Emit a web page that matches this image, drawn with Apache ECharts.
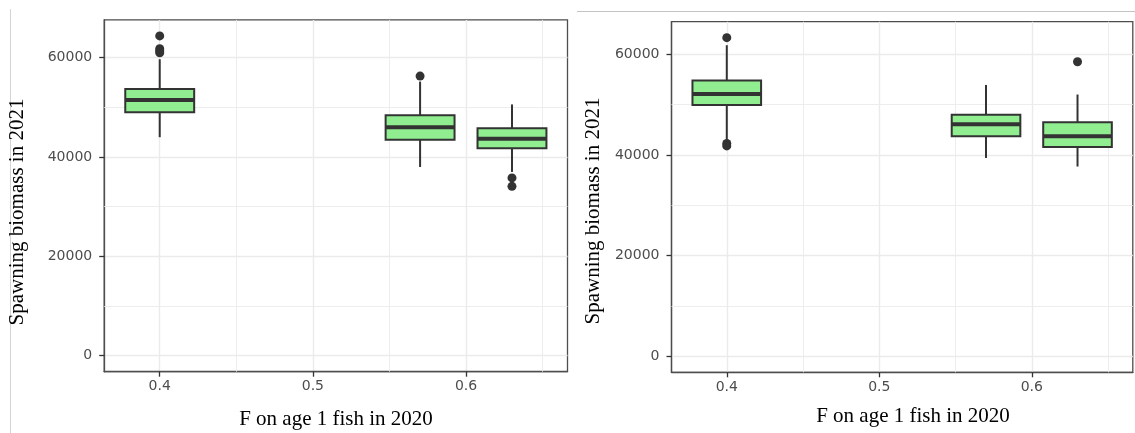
<!DOCTYPE html>
<html>
<head>
<meta charset="utf-8">
<script src="https://cdn.jsdelivr.net/npm/echarts@6/dist/echarts.min.js"></script>
<style>
html,body{margin:0;padding:0;background:#ffffff;}
#chart{width:1135px;height:433px;}
</style>
</head>
<body>
<div id="chart"></div>
<script>
// ---- data ----
const fValues = [0.4, 0.57, 0.63];
const xTickValues = [0.4, 0.5, 0.6];
const xMinorValues = [0.45, 0.55, 0.65];
const yTickValues = [0, 20000, 40000, 60000];
const yMinorValues = [10000, 30000, 50000];

// left panel
const leftLow  = [44000, 38000, 37000];
const leftQ1   = [49000, 43500, 41800];
const leftMed  = [51500, 46000, 43700];
const leftQ3   = [53700, 48400, 45800];
const leftHigh = [59700, 55200, 50600];
const leftOutliers = [[0.4, 64400], [0.4, 61800], [0.4, 61400], [0.4, 61000], [0.57, 56300], [0.63, 35800], [0.63, 34100]];

// right panel
const rightLow  = [43000, 39400, 37700];
const rightQ1   = [49900, 43700, 41600];
const rightMed  = [52100, 46100, 43700];
const rightQ3   = [54800, 48000, 46500];
const rightHigh = [61800, 53900, 52000];
const rightOutliers = [[0.4, 63300], [0.4, 42300], [0.4, 41800], [0.63, 58500]];

const xTitle = 'F on age 1 fish in 2020';
const yTitle = 'Spawning biomass in 2021';

// ---- layout / style ----
const BOX_WIDTH = 0.045;
const FILL = '#90EE90';
const DARK = '#333333';
const BORDER = '#4d4d4d';
const GRID_COLOR = '#ebebeb';

function boxRows(lo, q1, med, q3, hi) {
  return fValues.map((f, i) => [f, lo[i], q1[i], med[i], q3[i], hi[i]]);
}
function yRange(rows, outs) {
  let mx = 0;
  rows.forEach(r => r.slice(1).forEach(v => { if (v > mx) mx = v; }));
  outs.forEach(o => { if (o[1] > mx) mx = o[1]; });
  const pad = 0.05 * mx;
  return [-pad, mx + pad];
}
const xLo = Math.min(...fValues) - BOX_WIDTH / 2;
const xHi = Math.max(...fValues) + BOX_WIDTH / 2;
const xPad = 0.05 * (xHi - xLo);
const xRange = [xLo - xPad, xHi + xPad];

const leftRows = boxRows(leftLow, leftQ1, leftMed, leftQ3, leftHigh);
const rightRows = boxRows(rightLow, rightQ1, rightMed, rightQ3, rightHigh);
const leftY = yRange(leftRows, leftOutliers);
const rightY = yRange(rightRows, rightOutliers);

function renderBox(params, api) {
  const x = api.value(0);
  const lo = api.coord([x, api.value(1)]);
  const q1 = api.coord([x, api.value(2)]);
  const med = api.coord([x, api.value(3)]);
  const q3 = api.coord([x, api.value(4)]);
  const hi = api.coord([x, api.value(5)]);
  const hw = api.size([BOX_WIDTH, 0])[0] / 2;
  return {
    type: 'group',
    children: [
      {type: 'line', shape: {x1: lo[0], y1: lo[1], x2: q1[0], y2: q1[1]}, style: {stroke: DARK, lineWidth: 2}},
      {type: 'line', shape: {x1: q3[0], y1: q3[1], x2: hi[0], y2: hi[1]}, style: {stroke: DARK, lineWidth: 2}},
      {type: 'rect', shape: {x: q3[0] - hw, y: q3[1], width: 2 * hw, height: q1[1] - q3[1]},
        style: {fill: FILL, stroke: DARK, lineWidth: 2}},
      {type: 'line', shape: {x1: med[0] - hw, y1: med[1], x2: med[0] + hw, y2: med[1]}, style: {stroke: DARK, lineWidth: 4}}
    ]
  };
}

function gridLinesSeries(idx) {
  const data = [];
  yMinorValues.forEach(v => data.push({yAxis: v}));
  xMinorValues.forEach(v => data.push({xAxis: v}));
  return {
    type: 'scatter', xAxisIndex: idx, yAxisIndex: idx, data: [], silent: true, z: 1,
    markLine: {
      silent: true, symbol: 'none', z: 1, animation: false,
      label: {show: false},
      emphasis: {disabled: true},
      lineStyle: {color: GRID_COLOR, type: 'solid', width: 0.9},
      data: data
    }
  };
}

const axisLabelFont = {fontFamily: 'DejaVu Sans', fontSize: 14, color: '#4d4d4d'};

function xAxisOpt(idx) {
  return {
    type: 'value', gridIndex: idx, min: xRange[0], max: xRange[1],
    axisLine: {show: true, onZero: false, lineStyle: {color: BORDER, width: 1.3}},
    splitLine: {show: true, lineStyle: {color: GRID_COLOR, width: 1.4}},
    axisTick: {show: true, length: 5, customValues: xTickValues, lineStyle: {color: DARK, width: 1.3}},
    axisLabel: Object.assign({customValues: xTickValues, margin: 8, formatter: v => v.toFixed(1)}, axisLabelFont)
  };
}
function yAxisOpt(idx, range) {
  return {
    type: 'value', gridIndex: idx, min: range[0], max: range[1],
    axisLine: {show: true, onZero: false, lineStyle: {color: BORDER, width: 1.3}},
    splitLine: {show: true, lineStyle: {color: GRID_COLOR, width: 1.4}},
    axisTick: {show: true, length: 5, customValues: yTickValues, lineStyle: {color: DARK, width: 1.3}},
    axisLabel: Object.assign({customValues: yTickValues, margin: 12, formatter: v => String(v)}, axisLabelFont)
  };
}

const titleFont = 'Liberation Serif';

const option = {
  animation: false,
  backgroundColor: '#ffffff',
  grid: [
    {left: 104.2, top: 19.9, width: 463.3, height: 351.8, show: true, borderColor: BORDER, borderWidth: 1.3, backgroundColor: 'transparent', containLabel: false},
    {left: 671.5, top: 21.7, width: 461.3, height: 350.6, show: true, borderColor: BORDER, borderWidth: 1.3, backgroundColor: 'transparent', containLabel: false}
  ],
  xAxis: [xAxisOpt(0), xAxisOpt(1)],
  yAxis: [yAxisOpt(0, leftY), yAxisOpt(1, rightY)],
  series: [
    gridLinesSeries(0),
    gridLinesSeries(1),
    {type: 'custom', xAxisIndex: 0, yAxisIndex: 0, z: 3, data: leftRows, renderItem: renderBox, encode: {x: 0, y: [1, 2, 3, 4, 5]}},
    {type: 'custom', xAxisIndex: 1, yAxisIndex: 1, z: 3, data: rightRows, renderItem: renderBox, encode: {x: 0, y: [1, 2, 3, 4, 5]}},
    {type: 'scatter', xAxisIndex: 0, yAxisIndex: 0, z: 4, data: leftOutliers, symbolSize: 9, itemStyle: {color: DARK, opacity: 1}},
    {type: 'scatter', xAxisIndex: 1, yAxisIndex: 1, z: 4, data: rightOutliers, symbolSize: 9, itemStyle: {color: DARK, opacity: 1}}
  ],
  graphic: [
    {type: 'line', shape: {x1: 10.5, y1: 9, x2: 10.5, y2: 433}, style: {stroke: '#d4d4d4', lineWidth: 1}, silent: true},
    {type: 'line', shape: {x1: 577, y1: 11.5, x2: 1135, y2: 11.5}, style: {stroke: '#c4c4c4', lineWidth: 1}, silent: true},
    {type: 'text', x: 336, y: 419, style: {text: xTitle, fontFamily: titleFont, fontSize: 21, fill: '#000', align: 'center', verticalAlign: 'middle'}},
    {type: 'text', x: 913, y: 416, style: {text: xTitle, fontFamily: titleFont, fontSize: 21, fill: '#000', align: 'center', verticalAlign: 'middle'}},
    {type: 'text', x: 17, y: 212, rotation: Math.PI / 2, style: {text: yTitle, fontFamily: titleFont, fontSize: 21, fill: '#000', align: 'center', verticalAlign: 'middle'}},
    {type: 'text', x: 593, y: 211, rotation: Math.PI / 2, style: {text: yTitle, fontFamily: titleFont, fontSize: 21, fill: '#000', align: 'center', verticalAlign: 'middle'}}
  ]
};

const chart = echarts.init(document.getElementById('chart'), null, {renderer: 'canvas'});
chart.setOption(option);
</script>
</body>
</html>
